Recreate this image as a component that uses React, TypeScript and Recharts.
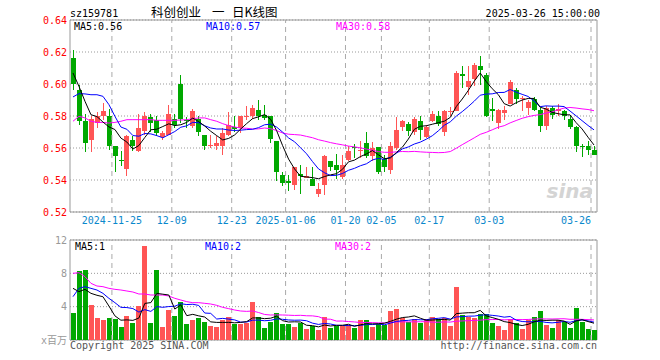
import React from 'react';
import {
  ComposedChart, Bar, Line, XAxis, YAxis, CartesianGrid, ReferenceLine, ReferenceArea,
} from 'recharts';

const dates = [
  '2024-11-14','2024-11-15','2024-11-18','2024-11-19','2024-11-20','2024-11-21','2024-11-22','2024-11-25','2024-11-26','2024-11-27','2024-11-28','2024-11-29',
  '2024-12-02','2024-12-03','2024-12-04','2024-12-05','2024-12-06','2024-12-09','2024-12-10','2024-12-11','2024-12-12','2024-12-13','2024-12-16','2024-12-17','2024-12-18','2024-12-19','2024-12-20','2024-12-23','2024-12-24','2024-12-25','2024-12-26','2024-12-27','2024-12-30','2024-12-31',
  '2025-01-02','2025-01-03','2025-01-06','2025-01-07','2025-01-08','2025-01-09','2025-01-10','2025-01-13','2025-01-14','2025-01-15','2025-01-16','2025-01-17','2025-01-20','2025-01-21','2025-01-22','2025-01-23','2025-01-24','2025-01-27',
  '2025-02-05','2025-02-06','2025-02-07','2025-02-10','2025-02-11','2025-02-12','2025-02-13','2025-02-14','2025-02-17','2025-02-18','2025-02-19','2025-02-20','2025-02-21','2025-02-24','2025-02-25','2025-02-26','2025-02-27','2025-02-28',
  '2025-03-03','2025-03-04','2025-03-05','2025-03-06','2025-03-07','2025-03-10','2025-03-11','2025-03-12','2025-03-13','2025-03-14','2025-03-17','2025-03-18','2025-03-19','2025-03-20','2025-03-21','2025-03-24','2025-03-25','2025-03-26',
];

const opens = [
  0.616,0.5965,0.5767,0.5648,0.5756,0.5798,0.5802,0.561,0.5523,0.5469,0.5652,0.5579,0.5704,0.5794,0.5777,0.5669,0.5683,0.5783,0.600,0.5777,
  0.5735,0.5783,0.5683,0.5615,0.5615,0.561,0.5683,0.5731,0.5725,0.5794,0.5798,0.5835,0.5808,0.5798,0.5646,0.5433,0.5396,0.5367,0.5438,0.5413,
  0.5406,0.5315,0.5367,0.5517,0.5496,0.5419,0.5527,0.5606,0.5585,0.5631,0.5548,0.5606,0.5531,0.546,0.560,0.5731,0.575,0.5698,0.5767,0.5669,
  0.5767,0.5802,0.5698,0.5823,0.5829,0.6063,0.5981,0.6031,0.611,0.6058,0.5846,0.5756,0.5819,0.5877,0.596,0.5906,0.585,0.5906,0.5835,0.5735,
  0.585,0.5829,0.5829,0.5781,0.5729,0.5615,0.5615,0.5585,
];
const highs = [
  0.621,0.5995,0.5815,0.5802,0.5827,0.588,0.5846,0.5615,0.5583,0.568,0.5673,0.5815,0.5827,0.5815,0.5798,0.5704,0.5867,0.5815,0.6058,0.5794,
  0.5846,0.5798,0.5683,0.5683,0.5673,0.5725,0.5827,0.5798,0.5802,0.5865,0.5871,0.5902,0.5867,0.5798,0.5646,0.5448,0.5433,0.5479,0.5496,0.5479,
  0.5479,0.5381,0.5558,0.5517,0.5563,0.5558,0.561,0.5627,0.5642,0.5698,0.5635,0.5606,0.5558,0.5635,0.5794,0.5777,0.576,0.5794,0.5798,0.5746,
  0.5829,0.5829,0.5835,0.5858,0.6079,0.6115,0.611,0.6131,0.6177,0.6069,0.5913,0.5844,0.586,0.6027,0.5975,0.5923,0.5902,0.5919,0.585,0.586,
  0.5865,0.5875,0.5835,0.5802,0.5735,0.5625,0.5642,0.5615,
];
const lows = [
  0.5965,0.5745,0.5577,0.5573,0.5727,0.5777,0.559,0.5452,0.5485,0.5427,0.5579,0.5575,0.5683,0.5698,0.5673,0.5652,0.5683,0.5725,0.5756,0.5725,
  0.5725,0.5673,0.559,0.560,0.559,0.5558,0.5673,0.5698,0.5694,0.5777,0.5783,0.5777,0.5777,0.5631,0.5392,0.536,0.5329,0.534,0.5315,0.5413,
  0.536,0.5294,0.5308,0.5454,0.5406,0.5406,0.5517,0.5538,0.5538,0.5538,0.5517,0.544,0.5448,0.544,0.559,0.5704,0.5673,0.5683,0.5652,0.5663,
  0.576,0.574,0.5677,0.5798,0.5829,0.5975,0.5933,0.5985,0.5996,0.5794,0.5767,0.5719,0.5777,0.5877,0.5877,0.5829,0.5808,0.5829,0.5698,0.571,
  0.5781,0.5802,0.5773,0.5719,0.5573,0.5544,0.5558,0.5558,
];
const closes = [
  0.600,0.5767,0.5631,0.5783,0.5802,0.5829,0.5615,0.5548,0.5517,0.5677,0.561,0.5725,0.5802,0.5756,0.5694,0.5694,0.581,0.5746,0.5783,0.5767,
  0.5829,0.5698,0.561,0.5619,0.5631,0.5694,0.5746,0.5719,0.5802,0.5802,0.585,0.5802,0.5788,0.5656,0.5448,0.5381,0.5381,0.5479,0.5427,0.5427,
  0.536,0.5346,0.5548,0.5479,0.5465,0.5496,0.5579,0.5602,0.559,0.5548,0.560,0.5448,0.5479,0.5615,0.5715,0.5767,0.5704,0.5783,0.571,0.5731,
  0.5815,0.5752,0.5829,0.5829,0.6069,0.6052,0.6017,0.6121,0.6085,0.5802,0.5829,0.5835,0.5835,0.601,0.5906,0.5913,0.5885,0.5835,0.5735,0.585,
  0.5808,0.5844,0.5802,0.5731,0.561,0.561,0.5585,0.5558,
];
const volumes = [
  3.28,8.28,8.40,4.20,2.68,2.40,2.68,2.52,1.60,2.88,2.08,4.08,11.32,2.08,8.40,1.60,3.60,2.88,4.60,1.92,
  2.40,2.68,2.20,1.68,1.60,2.40,2.72,1.92,1.92,2.08,4.60,2.72,1.48,2.20,3.28,1.92,1.92,1.60,2.08,1.32,
  1.68,1.20,2.72,1.48,1.72,1.72,1.80,1.48,2.40,2.40,1.60,1.88,1.80,3.48,3.72,2.60,2.20,2.48,2.08,2.48,
  2.72,2.48,2.60,1.68,6.36,3.00,2.72,2.60,3.08,3.08,2.00,1.68,1.20,2.48,2.00,1.32,2.40,2.72,3.48,1.80,
  1.48,2.40,2.20,1.48,3.88,2.20,1.32,1.20,
];

// moving-average values for days whose window starts before the first shown day
const ma5Lead = [0.6069, 0.5985, 0.5892, 0.5808];
const ma10Lead = [0.5919, 0.594, 0.5938, 0.5933, 0.5933, 0.5923, 0.5871, 0.5798, 0.5731];
const ma30Lead = [
  0.5767,0.5798,0.5788,0.5767,0.576,0.576,0.5756,0.576,0.5767,0.5777,0.5777,0.5777,0.5777,0.5777,0.5773,
  0.5773,0.5773,0.5773,0.5775,0.5777,0.5783,0.5788,0.5788,0.5777,0.5767,0.5752,0.574,0.5731,0.5725,
];
const vma5Lead = [6.2, 5.8, 6.08, 5.6];
const vma10Lead = [5.2, 6.2, 6.4, 6.2, 6.0, 5.6, 5.0, 4.48, 3.92];
const vma30Lead = [
  8.0,8.08,7.6,6.8,6.48,6.4,6.2,6.08,6.0,5.88,5.76,5.52,5.52,5.4,5.4,
  5.4,5.28,5.0,4.8,4.6,4.48,4.48,4.4,4.32,4.16,3.92,3.76,3.6,3.48,
];

const tickDates = ['2024-11-25','2024-12-09','2024-12-23','2025-01-06','2025-01-20','2025-02-05','2025-02-17','2025-03-03','2025-03-26'];
const tickLabels = ['2024-11-25','12-09','12-23','2025-01-06','01-20','02-05','02-17','03-03','03-26'];
const priceTicks = [0.52, 0.54, 0.56, 0.58, 0.60, 0.62, 0.64];
const volTicks = [0, 4, 8, 12];

const RED = '#ff5555';
const GREEN = '#00a800';
const MONO = '"DejaVu Sans Mono", "Liberation Mono", monospace';
const CJK = '"Noto Sans CJK SC", sans-serif';

function movingAvg(vals: number[], n: number, lead: number[]) {
  return vals.map((_, i) => {
    if (i < n - 1) return lead[i];
    let s = 0;
    for (let k = i - n + 1; k <= i; k++) s += vals[k];
    return s / n;
  });
}

const ma5 = movingAvg(closes, 5, ma5Lead);
const ma10 = movingAvg(closes, 10, ma10Lead);
const ma30 = movingAvg(closes, 30, ma30Lead);
const vma5 = movingAvg(volumes, 5, vma5Lead);
const vma10 = movingAvg(volumes, 10, vma10Lead);
const vma30 = movingAvg(volumes, 30, vma30Lead);

const data = dates.map((d, i) => ({
  date: d,
  open: opens[i], high: highs[i], low: lows[i], close: closes[i],
  range: [lows[i], highs[i]],
  volume: volumes[i],
  ma5: ma5[i], ma10: ma10[i], ma30: ma30[i],
  vma5: vma5[i], vma10: vma10[i], vma30: vma30[i],
}));

const Candle = (props: any) => {
  const { x, y, width, height, payload } = props;
  if (x == null || payload == null) return null;
  const { open, close, high, low } = payload;
  const color = close >= open ? RED : GREEN;
  const yTop = Math.min(y, y + height);
  const h = Math.abs(height);
  const span = high - low;
  const py = (v: number) => (span > 0 ? yTop + ((high - v) / span) * h : yTop);
  const bx = Math.round(x + width / 2 - 2.5);
  const cx = bx + 2.5;
  const t = Math.round(py(Math.max(open, close)));
  const b = Math.round(py(Math.min(open, close)));
  return (
    <g>
      <line x1={cx} x2={cx} y1={Math.round(yTop)} y2={Math.round(yTop + h)} stroke={color} strokeWidth={1} />
      <rect x={bx} y={t} width={5} height={Math.max(1, b - t)} fill={color} />
    </g>
  );
};

const VolBar = (props: any) => {
  const { x, y, width, height, payload } = props;
  if (x == null || payload == null) return null;
  const color = payload.close >= payload.open ? RED : GREEN;
  const bx = Math.round(x + width / 2 - 2.5);
  const t = Math.round(y);
  const b = Math.round(y + height);
  return <rect x={bx} y={t} width={5} height={Math.max(0, b - t)} fill={color} />;
};

const DateTick = (props: any) => {
  const { x, y, payload } = props;
  const k = tickDates.indexOf(payload?.value);
  if (k < 0) return null;
  const last = k === tickDates.length - 1;
  return (
    <text x={x - 3} y={y} dy={12} textAnchor={last ? 'end' : 'middle'} fill="#0a88cc" fontSize={10} fontFamily={MONO}>
      {tickLabels[k]}
    </text>
  );
};

export default function App() {
  return (
    <div style={{ position: 'absolute', left: 0, top: 0, width: 660, height: 360, background: '#fff', overflow: 'hidden' }}>
      <div style={{ position: 'absolute', left: 0, top: 0 }}>
        <ComposedChart width={660} height={232} data={data} margin={{ top: 20, right: 63, left: 0, bottom: 0 }}>
          <CartesianGrid vertical={false} stroke="#999" strokeDasharray="1 2" />
          <XAxis dataKey="date" interval={0} tick={<DateTick />} tickLine={false} axisLine={false} height={20} tickSize={0} tickMargin={0} />
          <YAxis
            type="number" domain={[0.52, 0.64]} ticks={priceTicks} allowDataOverflow width={70}
            tickFormatter={(v: number) => v.toFixed(2)} axisLine={false} tickLine={false} tickSize={0} tickMargin={3}
            tick={{ fill: '#ff0000', fontSize: 10, fontFamily: MONO }}
          />
          {tickDates.map((d) => (
            <ReferenceLine key={d} x={d} position="start" stroke="#aaa" strokeDasharray="5 4" />
          ))}
          <Bar dataKey="range" shape={<Candle />} isAnimationActive={false} />
          <Line dataKey="ma30" stroke="#ff00ff" dot={false} activeDot={false} strokeWidth={1} isAnimationActive={false} />
          <Line dataKey="ma10" stroke="#0000ff" dot={false} activeDot={false} strokeWidth={1} isAnimationActive={false} />
          <Line dataKey="ma5" stroke="#000000" dot={false} activeDot={false} strokeWidth={1} isAnimationActive={false} />
          <ReferenceArea y1={0.52} y2={0.64} fill="none" stroke="#999" strokeWidth={1} />
        </ComposedChart>
      </div>
      <div style={{ position: 'absolute', left: 0, top: 230 }}>
        <ComposedChart width={660} height={130} data={data} margin={{ top: 10, right: 63, left: 0, bottom: 20 }}>
          <CartesianGrid vertical={false} stroke="#999" strokeDasharray="1 2" />
          <XAxis dataKey="date" hide />
          <YAxis
            type="number" domain={[0, 12]} ticks={volTicks} allowDataOverflow width={70}
            tickFormatter={(v: number) => (v === 0 ? 'x百万' : String(v))} axisLine={false} tickLine={false} tickSize={0} tickMargin={3}
            tick={{ fill: '#999', fontSize: 10, fontFamily: MONO + ', ' + CJK }}
          />
          {tickDates.map((d) => (
            <ReferenceLine key={d} x={d} position="start" stroke="#aaa" strokeDasharray="5 4" />
          ))}
          <Bar dataKey="volume" shape={<VolBar />} isAnimationActive={false} />
          <Line dataKey="vma30" stroke="#ff00ff" dot={false} activeDot={false} strokeWidth={1} isAnimationActive={false} />
          <Line dataKey="vma10" stroke="#0000ff" dot={false} activeDot={false} strokeWidth={1} isAnimationActive={false} />
          <Line dataKey="vma5" stroke="#000000" dot={false} activeDot={false} strokeWidth={1} isAnimationActive={false} />
          <ReferenceArea y1={0} y2={12} fill="none" stroke="#999" strokeWidth={1} />
        </ComposedChart>
      </div>
      <svg width={660} height={360} style={{ position: 'absolute', left: 0, top: 0, pointerEvents: 'none' }}>
        <text x={70} y={16.5} fontSize={10} fontFamily={MONO} fill="#000">sz159781</text>
        <text x={151} y={17} fontSize={12.5} fontFamily={CJK} fill="#000">科创创业</text>
        <text x={212} y={17} fontSize={12.5} fontFamily={CJK} fill="#000">一</text>
        <text x={232} y={17} fontSize={12.5} fontFamily={CJK} fill="#000">日K线图</text>
        <text x={600} y={16.5} fontSize={10} fontFamily={MONO} fill="#000" textAnchor="end">2025-03-26 15:00:00</text>
        <text x={74} y={30} fontSize={10} fontFamily={MONO} fill="#000">MA5:0.56</text>
        <text x={206} y={30} fontSize={10} fontFamily={MONO} fill="#0000ff">MA10:0.57</text>
        <text x={336} y={30} fontSize={10} fontFamily={MONO} fill="#ff00ff">MA30:0.58</text>
        <text x={75} y={250} fontSize={10} fontFamily={MONO} fill="#000">MA5:1</text>
        <text x={205} y={250} fontSize={10} fontFamily={MONO} fill="#0000ff">MA10:2</text>
        <text x={335} y={250} fontSize={10} fontFamily={MONO} fill="#ff00ff">MA30:2</text>
        <text x={70} y={349} fontSize={10} fontFamily={MONO} fill="#555">Copyright 2025 SINA.COM</text>
        <text x={597} y={349} fontSize={10} fontFamily={MONO} fill="#555" textAnchor="end">http://finance.sina.com.cn</text>
        <text x={593} y={198} fontSize={20} fontFamily="'DejaVu Sans', sans-serif" fontStyle="italic" fontWeight="bold" fill="#d4d4d4" textAnchor="end">sina</text>
      </svg>
    </div>
  );
}
